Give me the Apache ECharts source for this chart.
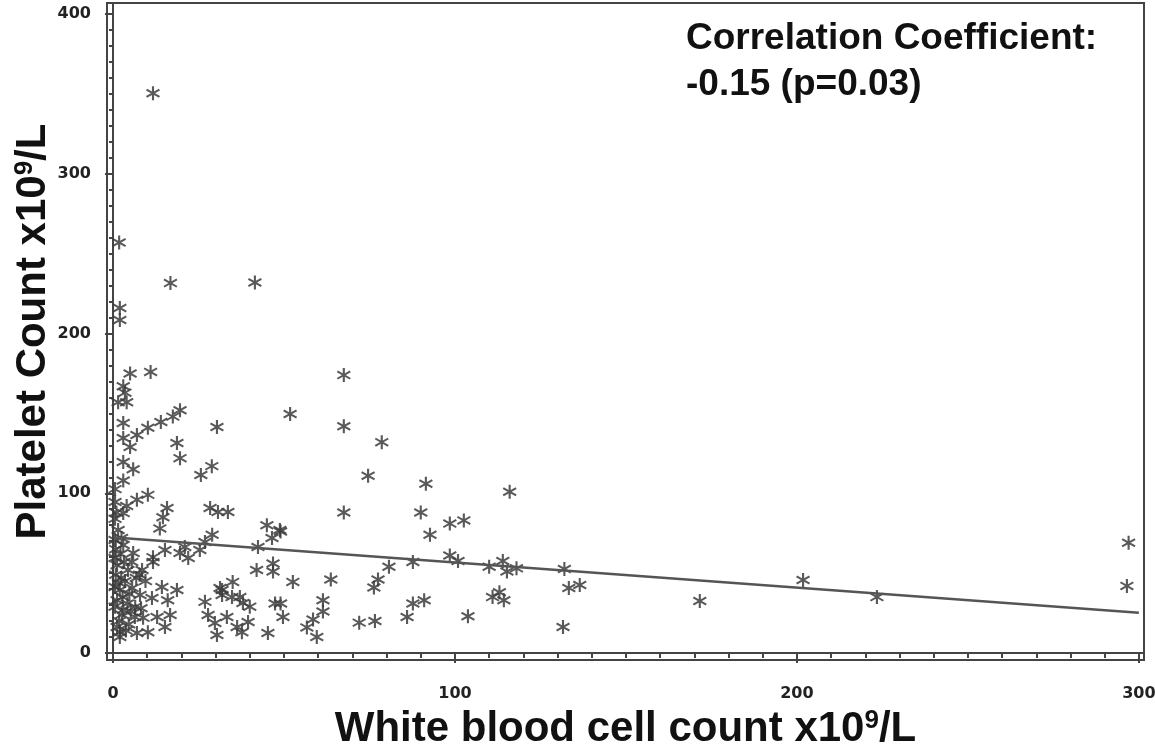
<!DOCTYPE html>
<html>
<head>
<meta charset="utf-8">
<script src="https://cdn.jsdelivr.net/npm/echarts@6/dist/echarts.min.js"></script>
<style>
  html, body { margin: 0; padding: 0; background: #fff; }
  #chart { width: 1155px; height: 750px; }
</style>
</head>
<body>
<div id="chart"></div>
<script>
// white blood cell count (x) and platelet count (y)
const wbc = [
  11.7, 1.8, 2, 2, 16.8, 41.5, 5, 11, 3, 3.5, 1.5, 4, 19.6, 17.5, 14, 10.2, 7, 3, 3, 5,
  18.7, 19.6, 30.4, 51.8, 3, 5.9, 25.7, 28.9, 3, 0.6, 7, 10.2, 0.6, 3, 15.8, 14.6, 13.7, 28.4, 30.7, 33.6,
  29, 26.9, 45, 48.8, 46.5, 42.4, 42, 46.8, 46.8, 52.6, 47.4, 49.7, 45.3, 0.6, 3, 5.9, 0.6, 4.4, 8.5, 11.7,
  15.2, 11.7, 19.6, 22, 25.4, 21, 0.6, 2, 5.6, 7.9, 11.4, 14.3, 18.7, 16, 0.6, 3, 6.4, 8.8, 12.9, 16.7,
  1.2, 2, 2, 7, 10.2, 15.2, 26.9, 31.3, 35, 27.8, 29.8, 30.4, 33.3, 34.8, 38, 40, 36.3, 37.7, 39.5, 31.9,
  37.1, 31.9, 67.5, 67.5, 78.6, 74.6, 91.5, 116, 67.5, 90, 49, 98.5, 102.6, 92.7, 63.7, 49, 61.4, 61.4, 58.5, 56.7,
  59.6, 72, 76.6, 86, 76.3, 77.5, 80.7, 87.7, 87.7, 91, 98.5, 100.9, 103.8, 110, 114, 115.2, 118, 113, 111, 114.3,
  132, 133.3, 136.5, 131.6, 171.6, 201.8, 223.4, 296.5, 297,
  0.6, 1.5, 2.5, 0.8, 2.2, 1.2, 3.2, 0.8, 2.4, 1.6, 3.5, 2.8, 1.2, 4.2, 2.6, 1.8, 4.6, 3.8, 5.2, 6.5,
  4.8, 6.8, 5.5, 7.8, 9.5, 4, 1, 8.2
];
const plt = [
  350.5, 257, 216, 208.5, 231.6, 232, 175, 176, 167, 163, 157, 157, 152, 148, 144.6, 141, 136.5, 134.6, 144, 129,
  131.5, 122, 141.5, 149.6, 119.6, 115, 111.4, 117, 108, 102.6, 96, 99, 94.5, 87.6, 90.8, 85, 78, 90.8, 88.3, 88.3,
  74, 69.5, 80, 77, 72, 66.4, 52, 56, 51, 44.5, 31, 22.5, 12.5, 70.7, 67.6, 62.6, 59.5, 52, 52, 60,
  64.5, 57, 62.6, 59.5, 64.5, 66.4, 41.3, 39.4, 40.7, 36.3, 34.4, 41.3, 39.4, 33, 29, 27, 22.5, 22, 22.5, 23.8,
  16.3, 13, 10, 12.5, 13, 16.3, 32, 40.7, 44.5, 23.8, 18.8, 11.3, 22.5, 35, 31.3, 29, 16.3, 13, 19.4, 39.4,
  35, 36.3, 174, 142, 132, 111, 106, 101, 88, 88, 76, 81, 83, 74, 46, 31, 33, 26, 21, 16,
  10, 19, 20, 22.5, 41, 46, 54, 57, 31, 33, 61, 57.6, 23, 54, 57.6, 51, 53, 38, 35, 33,
  52.6, 40.7, 42.6, 16.3, 32.5, 45.7, 35, 42, 69,
  84, 77, 72, 65, 62, 55, 57, 49, 47, 44, 45, 35, 33, 31, 24, 20, 18, 14, 26, 29,
  37, 47, 57, 49, 45, 92, 88, 28
];
// fitted regression line end points
const fitX = [0.6, 300];
const fitY = [72.3, 25.2];

const xMajor = [0, 100, 200, 300];
const yMajor = [0, 100, 200, 300, 400];
const xMinor = [];
for (let v = 0; v <= 300; v += 10) xMinor.push(v);
const yMinor = [];
for (let v = 0; v <= 400; v += 10) yMinor.push(v);

// asterisk: one vertical bar and two diagonal bars
const star = 'path://M43 0L57 0L57 100L43 100Z' +
  'M10.8 82.1L3.8 70L89.2 17.9L96.2 30Z' +
  'M3.8 30L10.8 17.9L96.2 70L89.2 82.1Z';

const titleRich = {
  a: { fontFamily: 'Liberation Sans', fontWeight: 'bold', fontSize: 42, color: '#111' },
  s: { fontFamily: 'Liberation Sans', fontWeight: 'bold', fontSize: 26, color: '#111', verticalAlign: 'top' }
};
const tickFont = { fontFamily: 'DejaVu Sans', fontWeight: 'bold', fontSize: 16, color: '#222' };
const axisColor = '#444';

const chart = echarts.init(document.getElementById('chart'));

const option = {
  animation: false,
  grid: {
    left: 107, right: 11, top: 3, bottom: 90,
    outerBoundsMode: 'none',
    show: true, borderColor: axisColor, borderWidth: 2
  },
  xAxis: [
    {
      type: 'value', min: -1.75, max: 301.5, position: 'bottom',
      axisLine: { show: true, lineStyle: { color: axisColor, width: 2 } },
      axisTick: { show: true, customValues: xMajor, length: 10, lineStyle: { color: axisColor, width: 2 } },
      axisLabel: Object.assign({ customValues: xMajor, margin: 26 }, tickFont),
      splitLine: { show: false },
      name: '{a|White blood cell count x10}{s|9}{a|/L}',
      nameLocation: 'middle', nameGap: 48, nameMoveOverlap: false,
      nameTextStyle: { rich: titleRich }
    },
    {
      type: 'value', min: -1.75, max: 301.5, position: 'bottom',
      axisLine: { show: false },
      axisTick: { show: true, customValues: xMinor, length: 5, lineStyle: { color: axisColor, width: 2 } },
      axisLabel: { show: false },
      splitLine: { show: false }
    }
  ],
  yAxis: [
    {
      type: 'value', min: -4.4, max: 407, position: 'left',
      axisLine: { show: true, lineStyle: { color: axisColor, width: 2 } },
      axisTick: { show: true, customValues: yMajor, length: 8, lineStyle: { color: axisColor, width: 2 } },
      axisLabel: Object.assign({ customValues: yMajor, margin: 16 }, tickFont),
      splitLine: { show: false },
      name: '{a|Platelet Count x10}{s|9}{a|/L}',
      nameLocation: 'middle', nameGap: 53, nameMoveOverlap: false,
      nameTextStyle: { rich: titleRich }
    },
    {
      type: 'value', min: -4.4, max: 407, position: 'left',
      axisLine: { show: false },
      axisTick: { show: true, customValues: yMinor, length: 4, lineStyle: { color: axisColor, width: 2 } },
      axisLabel: { show: false },
      splitLine: { show: false }
    }
  ],
  graphic: [
    {
      type: 'text', left: 686, top: 16,
      style: {
        text: 'Correlation Coefficient:\n-0.15 (p=0.03)',
        font: 'bold 37px "Liberation Sans"',
        lineHeight: 46,
        fill: '#111'
      }
    }
  ],
  series: [
    {
      type: 'line',
      xAxisIndex: 0, yAxisIndex: 0,
      data: fitX.map((x, i) => [x, fitY[i]]),
      symbol: 'none',
      lineStyle: { color: '#555', width: 2.5 },
      silent: true
    },
    {
      type: 'scatter',
      xAxisIndex: 0, yAxisIndex: 0,
      data: wbc.map((x, i) => [x, plt[i]]),
      symbol: star,
      symbolSize: 14,
      itemStyle: { color: '#3c3c3c', opacity: 0.85 },
      silent: true
    }
  ]
};

chart.setOption(option);
</script>
</body>
</html>
